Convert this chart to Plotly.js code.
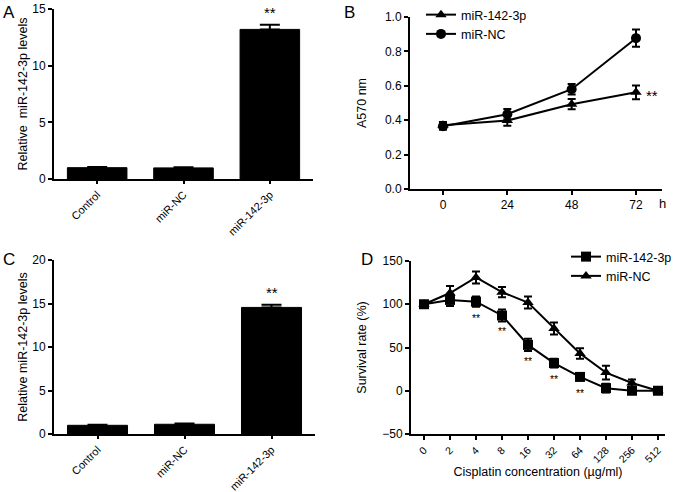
<!DOCTYPE html>
<html><head><meta charset="utf-8">
<script src="https://cdn.plot.ly/plotly-3.0.1.min.js"></script>
<style>html,body{margin:0;padding:0;background:#fff;overflow:hidden}#chart{width:677px;height:492px}</style>
</head><body><div id="chart"></div>
<script>
// ---- Data ----
var barCategories = ["Control", "miR-NC", "miR-142-3p"];
var barA = [1.0, 0.98, 13.2];
var barAErr = [0.05, 0.06, 0.4];
var barC = [1.0, 1.12, 14.55];
var barCErr = [0.05, 0.08, 0.3];

var timeHours = [0, 24, 48, 72];
var bMir142 = [0.37, 0.398, 0.493, 0.562];
var bMir142Err = [0.02, 0.03, 0.03, 0.04];
var bMirNC = [0.365, 0.435, 0.58, 0.877];
var bMirNCErr = [0.02, 0.03, 0.03, 0.05];

var doseLabels = ["0", "2", "4", "8", "16", "32", "64", "128", "256", "512"];
var dMir142 = [100, 105, 103, 87, 53, 32, 16, 3, 0, 0];
var dMir142Err = [3, 7, 6, 7, 7, 5, 4, 5, 3, 2];
var dMirNC = [100, 113, 131, 114, 102, 72, 43, 21, 9, 0];
var dMirNCErr = [3, 8, 7, 6, 7, 7, 6, 8, 4, 2];
var dStarIdx = [2, 3, 4, 5, 6];

// ---- Layout helpers ----
var W = 677, H = 492;
function dx(a, b) { return [a / W, b / W]; }
function dy(top, bot) { return [1 - bot / H, 1 - top / H]; }
var FONT = "Liberation Sans, Arial, sans-serif";
var axisBase = {
  showline: true, linecolor: "#000", linewidth: 2, mirror: false,
  ticks: "outside", ticklen: 4, tickwidth: 2, tickcolor: "#000",
  showgrid: false, zeroline: false, fixedrange: true, automargin: false,
  tickfont: { family: FONT, size: 12, color: "#000" }
};
function ax(o) { return Object.assign({}, axisBase, o); }
function ttl(t, s) { return { text: t, font: { family: FONT, size: 12.5, color: "#000" }, standoff: s }; }

var traces = [];
// Panel A bars
traces.push({
  type: "bar", x: barCategories, y: barA, xaxis: "x", yaxis: "y",
  marker: { color: "#000", line: { color: "#000", width: 1 } }, width: 0.69,
  error_y: { type: "data", array: barAErr, arrayminus: barAErr.map(function(){return 0;}), symmetric: false, color: "#000", thickness: 2, width: 10 },
  showlegend: false, hoverinfo: "skip"
});
// Panel C bars
traces.push({
  type: "bar", x: barCategories, y: barC, xaxis: "x3", yaxis: "y3",
  marker: { color: "#000", line: { color: "#000", width: 1 } }, width: 0.69,
  error_y: { type: "data", array: barCErr, arrayminus: barCErr.map(function(){return 0;}), symmetric: false, color: "#000", thickness: 2, width: 10 },
  showlegend: false, hoverinfo: "skip"
});
// Panel B lines
traces.push({
  type: "scatter", mode: "lines+markers", name: "miR-142-3p", x: timeHours, y: bMir142,
  xaxis: "x2", yaxis: "y2", legend: "legend",
  line: { color: "#000", width: 2 }, marker: { symbol: "triangle-up", size: 10, color: "#000" },
  error_y: { type: "data", array: bMir142Err, color: "#000", thickness: 2, width: 4 }
});
traces.push({
  type: "scatter", mode: "lines+markers", name: "miR-NC", x: timeHours, y: bMirNC,
  xaxis: "x2", yaxis: "y2", legend: "legend",
  line: { color: "#000", width: 2 }, marker: { symbol: "circle", size: 10, color: "#000" },
  error_y: { type: "data", array: bMirNCErr, color: "#000", thickness: 2, width: 4 }
});
// Panel D lines
traces.push({
  type: "scatter", mode: "lines+markers", name: "miR-142-3p", x: doseLabels, y: dMir142,
  xaxis: "x4", yaxis: "y4", legend: "legend2",
  line: { color: "#000", width: 2 }, marker: { symbol: "square", size: 10, color: "#000" },
  error_y: { type: "data", array: dMir142Err, color: "#000", thickness: 2, width: 4 }
});
traces.push({
  type: "scatter", mode: "lines+markers", name: "miR-NC", x: doseLabels, y: dMirNC,
  xaxis: "x4", yaxis: "y4", legend: "legend2",
  line: { color: "#000", width: 2 }, marker: { symbol: "triangle-up", size: 10, color: "#000" },
  error_y: { type: "data", array: dMirNCErr, color: "#000", thickness: 2, width: 4 }
});

var annotations = [];
function letter(t, x, y) {
  annotations.push({ text: t, xref: "paper", yref: "paper", x: x / W, y: 1 - y / H,
    xanchor: "center", yanchor: "middle", showarrow: false, font: { family: FONT, size: 17, color: "#000" } });
}
letter("A", 9, 13); letter("B", 349, 12); letter("C", 9, 259); letter("D", 367, 259);
function stars(xr, yr, x, y, size, ys, xs) {
  annotations.push({ text: "**", xref: xr, yref: yr, x: x, y: y, showarrow: false,
    yshift: ys || 0, xshift: xs || 0, font: { family: FONT, size: size, color: "#000" } });
}
stars("x", "y", 2, barA[2] + barAErr[2], 15, 12);
stars("x3", "y3", 2, barC[2] + barCErr[2], 15, 12);
stars("x2", "y2", 72, bMir142[3], 15, -3, 16);
dStarIdx.forEach(function (i) { stars("x4", "y4", i, dMir142[i], 10.5, -16); });
annotations.push({ text: "h", xref: "paper", yref: "paper", x: 668 / W, y: 1 - 204 / H,
  showarrow: false, font: { family: FONT, size: 13, color: "#000" } });

var catTickFont = { family: FONT, size: 11, color: "#000" };
var layout = {
  width: W, height: H, margin: { l: 0, r: 0, t: 0, b: 0, pad: 0, autoexpand: false },
  paper_bgcolor: "#fff", plot_bgcolor: "#fff",
  font: { family: FONT, color: "#000" }, bargap: 0.3,
  xaxis: ax({ domain: dx(54, 313), anchor: "y", type: "category", range: [-0.5, 2.5], tickangle: -45, ticklen: 3, tickfont: catTickFont }),
  yaxis: ax({ domain: dy(9, 179), anchor: "x", range: [0, 15], tickvals: [0, 5, 10, 15],
    title: ttl("Relative  miR-142-3p levels", 2) }),
  xaxis2: ax({ domain: dx(410, 662), anchor: "y2", range: [-12.3, 81.7], tickvals: timeHours }),
  yaxis2: ax({ domain: dy(17, 189), anchor: "x2", range: [0, 1.0], tickvals: [0, 0.2, 0.4, 0.6, 0.8, 1.0], tickformat: ".1f",
    title: ttl("A570 nm", 16) }),
  xaxis3: ax({ domain: dx(54, 315), anchor: "y3", type: "category", range: [-0.5, 2.5], tickangle: -45, ticklen: 3, tickfont: catTickFont }),
  yaxis3: ax({ domain: dy(260, 434), anchor: "x3", range: [0, 20], tickvals: [0, 5, 10, 15, 20],
    title: ttl("Relative miR-142-3p levels", 2) }),
  xaxis4: ax({ domain: dx(411, 665), anchor: "y4", type: "category", range: [-0.5, 9.27], tickangle: -45,
    tickfont: { family: FONT, size: 10.5, color: "#000" },
    title: ttl("Cisplatin concentration (µg/ml)", 0) }),
  yaxis4: ax({ domain: dy(261, 434), anchor: "x4", range: [-50, 150], tickvals: [-50, 0, 50, 100, 150],
    title: ttl("Survival rate (%)", 13) }),
  legend: { x: 421 / W, y: 1, xanchor: "left", yanchor: "top", bgcolor: "rgba(0,0,0,0)",
    font: { family: FONT, size: 12.5, color: "#000" }, tracegroupgap: 0, itemwidth: 30 },
  legend2: { x: 1, y: 1 - 242 / H, xanchor: "right", yanchor: "top", bgcolor: "rgba(0,0,0,0)",
    font: { family: FONT, size: 12.5, color: "#000" }, tracegroupgap: 0, itemwidth: 30 },
  annotations: annotations
};
Plotly.newPlot("chart", traces, layout, { staticPlot: true, displayModeBar: false });
</script></body></html>
